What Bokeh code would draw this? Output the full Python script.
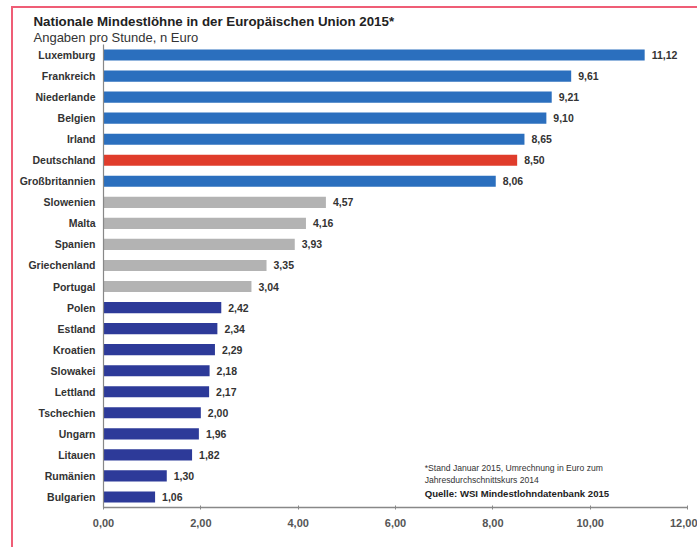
from bokeh.plotting import figure
from bokeh.models import FactorRange, Range1d, Label, FixedTicker, ColumnDataSource, Title, InlineStyleSheet
from bokeh.transform import factor_cmap
from bokeh.core.properties import value
from bokeh.embed import file_html
from bokeh.resources import INLINE

countries = ["Luxemburg", "Frankreich", "Niederlande", "Belgien", "Irland", "Deutschland",
             "Großbritannien", "Slowenien", "Malta", "Spanien", "Griechenland", "Portugal",
             "Polen", "Estland", "Kroatien", "Slowakei", "Lettland", "Tschechien", "Ungarn",
             "Litauen", "Rumänien", "Bulgarien"]
wages = [11.12, 9.61, 9.21, 9.10, 8.65, 8.50, 8.06, 4.57, 4.16, 3.93, 3.35, 3.04,
         2.42, 2.34, 2.29, 2.18, 2.17, 2.00, 1.96, 1.82, 1.30, 1.06]
groups = ["west", "west", "west", "west", "west", "de", "west",
          "south", "south", "south", "south", "south",
          "east", "east", "east", "east", "east", "east", "east", "east", "east", "east"]
x_ticks = [0, 2, 4, 6, 8, 10, 12]
title = "Nationale Mindestlöhne in der Europäischen Union  2015*"
subtitle = "Angaben pro Stunde, n Euro"
footnote = ["*Stand Januar 2015, Umrechnung in Euro zum", "Jahresdurchschnittskurs 2014"]
source_note = "Quelle: WSI Mindestlohndatenbank 2015"

group_names = ["west", "de", "south", "east"]
group_colors = ["#2b6fbe", "#e03c2b", "#b3b3b3", "#2d3a99"]

def de_fmt(v):
    return f"{v:.2f}".replace(".", ",")

src = ColumnDataSource(dict(country=countries, wage=wages, group=groups,
                            label=[de_fmt(v) for v in wages]))

FONT = "Liberation Sans"

p = figure(width=697, height=547, output_backend="svg", toolbar_location=None,
           y_range=FactorRange(factors=countries[::-1], range_padding=0),
           x_range=Range1d(0, 12),
           min_border_left=103, min_border_right=10, min_border_top=44, min_border_bottom=40)
p.outline_line_color = None
p.xgrid.visible = False
p.ygrid.visible = False
p.background_fill_color = "white"
p.border_fill_color = "white"

p.hbar(y="country", right="wage", left=0, height=0.53, source=src,
       fill_color=factor_cmap("group", group_colors, group_names), line_color=None)

p.text(x="wage", y="country", text="label", source=src, x_offset=7,
       text_baseline="middle", text_align="left", text_font=value(FONT),
       text_font_style="bold", text_font_size="10.5px", text_color="#333333")

# axes
p.xaxis.ticker = FixedTicker(ticks=x_ticks)
p.xaxis.major_label_overrides = {t: de_fmt(t) for t in x_ticks}
p.xaxis.major_label_text_font = FONT
p.xaxis.major_label_text_font_style = "bold"
p.xaxis.major_label_text_font_size = "11px"
p.xaxis.major_label_text_color = "#555555"
p.xaxis.major_label_standoff = 9
p.xaxis.axis_line_color = "#888888"
p.xaxis.axis_line_width = 1.5
p.xaxis.major_tick_in = 2
p.xaxis.major_tick_out = 2
p.xaxis.major_tick_line_color = "#888888"
p.xaxis.minor_tick_line_color = None

p.yaxis.major_label_text_font = FONT
p.yaxis.major_label_text_font_style = "bold"
p.yaxis.major_label_text_font_size = "10.5px"
p.yaxis.major_label_text_color = "#333333"
p.yaxis.major_label_standoff = 8
p.yaxis.axis_line_color = "#888888"
p.yaxis.axis_line_width = 1.2
p.yaxis.major_tick_in = 0
p.yaxis.major_tick_out = 0

# subtitle (closest to frame) then title
p.add_layout(Title(text=subtitle, align="left", offset=-70, text_font=FONT,
                   text_font_style="normal", text_font_size="13px", text_color="#333333",
                   standoff=0), "above")
p.add_layout(Title(text=title, align="left", offset=-70, text_font=FONT,
                   text_font_style="bold", text_font_size="13.3px", text_color="#222222",
                   standoff=-3), "above")

# footnote
for yy, line in zip([1.86, 1.29], footnote):
    p.add_layout(Label(x=6.6, y=yy, text=line, text_font=FONT, text_font_size="8.6px",
                       text_color="#333333", text_baseline="middle"))
p.add_layout(Label(x=6.6, y=0.67, text=source_note, text_font=FONT, text_font_style="bold",
                   text_font_size="9.6px", text_color="#222222", text_baseline="middle"))

p.stylesheets = [InlineStyleSheet(css=""":host::after {
  content: ""; position: absolute; left: 11px; top: 6px;
  width: calc(100% - 11px); height: calc(100% - 6px);
  border-left: 2px solid #ef5d76; border-top: 2px solid #ef5d76;
  box-sizing: border-box; pointer-events: none; z-index: 10;
}""")]

open("out.html", "w").write(file_html(p, INLINE))
